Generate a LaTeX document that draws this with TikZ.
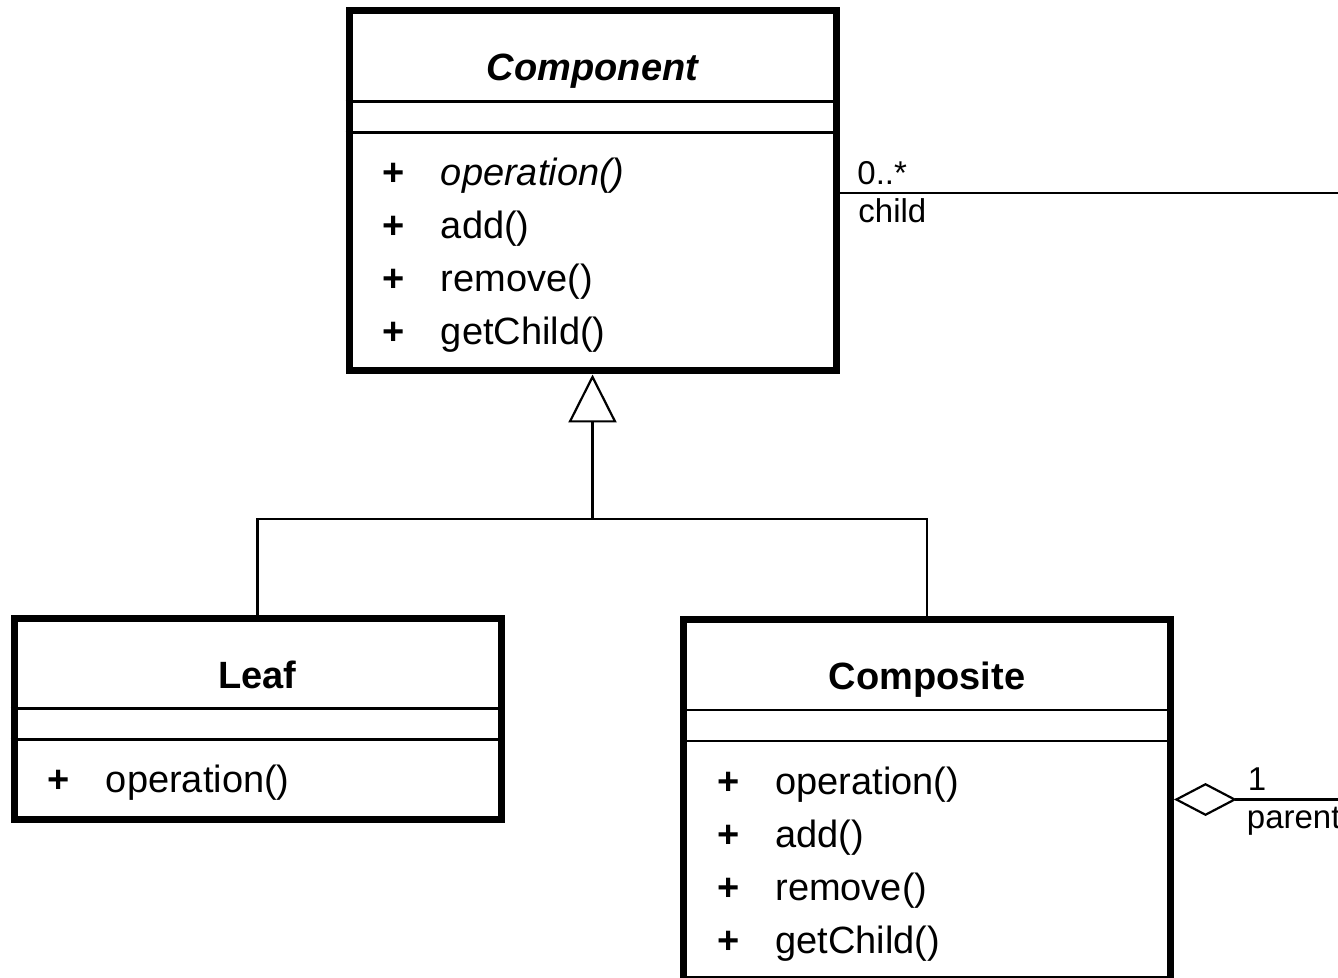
\documentclass[tikz,border=0pt]{standalone}
\usepackage{fontspec}
\setmainfont{Liberation Sans}
\usepackage{tikz}
\usetikzlibrary{arrows.meta}
\usetikzlibrary{calc}
\tikzstyle{class_box} = [rectangle, draw=black, line width=3.5pt, minimum width=243.5pt, inner sep=0pt]
\tikzstyle{title_text} = [anchor=base, inner sep=0pt, font=\fontsize{19}{23}\selectfont\bfseries]
\tikzstyle{plus_text} = [anchor=base, inner sep=0pt, font=\fontsize{19}{23}\selectfont\bfseries]
\tikzstyle{method_text} = [anchor=base west, inner sep=0pt, font=\fontsize{19}{23}\selectfont]
\tikzstyle{role_text} = [anchor=base west, inner sep=0pt, font=\fontsize{16.5}{20}\selectfont]
\tikzstyle{separator} = [line width=1.2pt]
\tikzstyle{link} = [line width=1.1pt]
\tikzstyle{inherit} = [line width=1.1pt, -{Triangle[open, length=24pt, width=24pt]}]
\tikzstyle{aggregate} = [line width=1.1pt, {Diamond[open, length=31.5pt, width=16.5pt]}-]

\begin{document}
\begin{tikzpicture}[node distance=263.75pt]
        \useasboundingbox (0,0) rectangle (669pt,-489pt);
        \coordinate(rightedge) at (675pt,0);

        \node(component) [class_box, minimum height=180pt] at (296.25pt,-95.5pt) {};
        \node(leaf) [class_box, minimum height=100.5pt, below of=component, xshift=-167.5pt] {};
        \node(composite) [class_box, minimum height=180pt, below of=component, xshift=167.25pt, yshift=-40.5pt] {};

        % Component
        \node(componenttitle) [title_text] at ([yshift=-36.75pt]component.north) {\itshape Component};
        \draw[separator] ([yshift=-47pt]component.north west) -- ([yshift=-47pt]component.north east);
        \draw[separator] ([yshift=-62.5pt]component.north west) -- ([yshift=-62.5pt]component.north east);
        \node(componentplus1) [plus_text] at ([xshift=24.25pt, yshift=-89pt]component.north west) {+};
        \node(componentop1) [method_text] at ([xshift=47.5pt, yshift=-89pt]component.north west) {\itshape operation()};
        \node(componentplus2) [plus_text] at ([xshift=24.25pt, yshift=-115.5pt]component.north west) {+};
        \node(componentop2) [method_text] at ([xshift=47.5pt, yshift=-115.5pt]component.north west) {add()};
        \node(componentplus3) [plus_text] at ([xshift=24.25pt, yshift=-142pt]component.north west) {+};
        \node(componentop3) [method_text] at ([xshift=47.5pt, yshift=-142pt]component.north west) {remove()};
        \node(componentplus4) [plus_text] at ([xshift=24.25pt, yshift=-168.5pt]component.north west) {+};
        \node(componentop4) [method_text] at ([xshift=47.5pt, yshift=-168.5pt]component.north west) {getChild()};

        % Leaf
        \node(leaftitle) [title_text] at ([yshift=-36.75pt]leaf.north) {Leaf};
        \draw[separator] ([yshift=-47pt]leaf.north west) -- ([yshift=-47pt]leaf.north east);
        \draw[separator] ([yshift=-62.5pt]leaf.north west) -- ([yshift=-62.5pt]leaf.north east);
        \node(leafplus1) [plus_text] at ([xshift=24.25pt, yshift=-89pt]leaf.north west) {+};
        \node(leafop1) [method_text] at ([xshift=47.5pt, yshift=-89pt]leaf.north west) {operation()};

        % Composite
        \node(compositetitle) [title_text] at ([yshift=-36.75pt]composite.north) {Composite};
        \draw[separator] ([yshift=-47pt]composite.north west) -- ([yshift=-47pt]composite.north east);
        \draw[separator] ([yshift=-62.5pt]composite.north west) -- ([yshift=-62.5pt]composite.north east);
        \node(compositeplus1) [plus_text] at ([xshift=24.25pt, yshift=-89pt]composite.north west) {+};
        \node(compositeop1) [method_text] at ([xshift=47.5pt, yshift=-89pt]composite.north west) {operation()};
        \node(compositeplus2) [plus_text] at ([xshift=24.25pt, yshift=-115.5pt]composite.north west) {+};
        \node(compositeop2) [method_text] at ([xshift=47.5pt, yshift=-115.5pt]composite.north west) {add()};
        \node(compositeplus3) [plus_text] at ([xshift=24.25pt, yshift=-142pt]composite.north west) {+};
        \node(compositeop3) [method_text] at ([xshift=47.5pt, yshift=-142pt]composite.north west) {remove()};
        \node(compositeplus4) [plus_text] at ([xshift=24.25pt, yshift=-168.5pt]composite.north west) {+};
        \node(compositeop4) [method_text] at ([xshift=47.5pt, yshift=-168.5pt]composite.north west) {getChild()};

        % generalization
        \coordinate(joint) at ([yshift=-72.25pt]component.south);
        \draw[link] (leaf.north) |- (joint) -| (composite.north);
        \draw[inherit] (joint) -- (component.south);

        % child / parent association
        \coordinate(childstart) at ([yshift=-1pt]component.east);
        \coordinate(childend) at (childstart -| rightedge);
        \coordinate(parentend) at (composite.east -| rightedge);
        \draw[link] (childstart) -- (childend);
        \draw[aggregate] (composite.east) -- (parentend);
        \node(childmult) [role_text] at ([xshift=8.75pt, yshift=4pt]childstart) {0..*};
        \node(childrole) [role_text] at ([xshift=9.25pt, yshift=-15pt]childstart) {child};
        \node(parentmult) [role_text] at ([xshift=36.75pt, yshift=4.5pt]composite.east) {1};
        \node(parentrole) [role_text] at ([xshift=36.25pt, yshift=-14.5pt]composite.east) {parent};
\end{tikzpicture}
\end{document}
